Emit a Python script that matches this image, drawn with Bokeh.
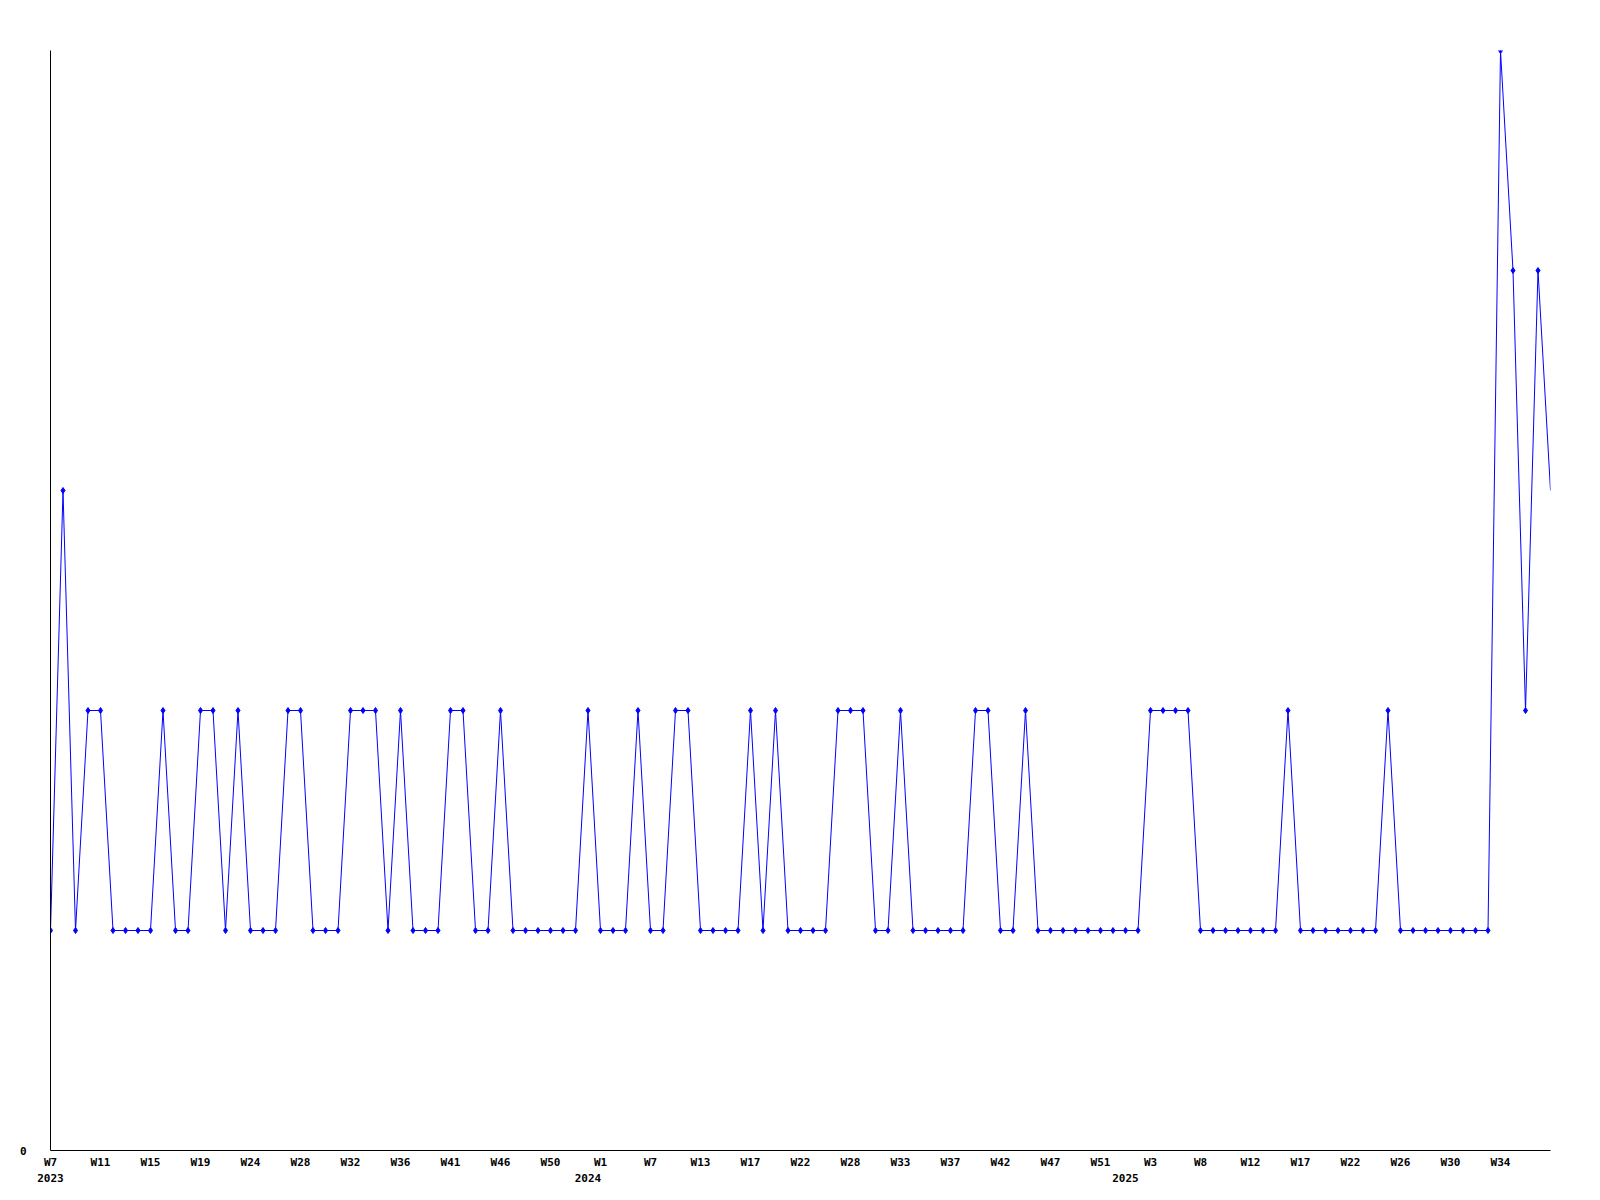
from bokeh.plotting import figure
from bokeh.models import Range1d, FixedTicker, LinearAxis
from bokeh.embed import file_html
from bokeh.resources import INLINE

# ---- data ----
values_2023 = [1, 3, 1, 2, 2, 1, 1, 1, 1, 2, 1, 1, 2, 2, 1, 2, 1, 1, 1, 2, 2, 1, 1, 1, 2,
               2, 2, 1, 2, 1, 1, 1, 2, 2, 1, 1, 2, 1, 1, 1, 1, 1, 1]
values_2024 = [2, 1, 1, 1, 2, 1, 1, 2, 2, 1, 1, 1, 1, 2, 1, 2, 1, 1, 1, 1, 2, 2, 2, 1, 1,
               2, 1, 1, 1, 1, 1, 2, 2, 1, 1, 2, 1, 1, 1, 1, 1, 1, 1]
values_2025 = [1, 1, 2, 2, 2, 2, 1, 1, 1, 1, 1, 1, 1, 2, 1, 1, 1, 1, 1, 1, 1, 2, 1, 1, 1,
               1, 1, 1, 1, 1, 5, 4, 2, 4, 3]
values = values_2023 + values_2024 + values_2025
x = list(range(len(values)))

week_tick_idx = list(range(0, 120, 4))
week_labels = ["W7", "W11", "W15", "W19", "W24", "W28", "W32", "W36", "W41", "W46",
               "W50", "W1", "W7", "W13", "W17", "W22", "W28", "W33", "W37", "W42",
               "W47", "W51", "W3", "W8", "W12", "W17", "W22", "W26", "W30", "W34"]
year_tick_idx = [0, len(values_2023), len(values_2023) + len(values_2024)]
year_labels = ["2023", "2024", "2025"]

FONT = "DejaVu Sans Mono"
BLUE = "#0000ff"

p = figure(width=1592, height=1192, output_backend="svg", toolbar_location=None,
           x_range=Range1d(0, len(values) - 1), y_range=Range1d(0, 5),
           min_border_left=50, min_border_right=42, min_border_top=50, min_border_bottom=42)
p.grid.visible = False
p.outline_line_color = None
p.background_fill_color = "white"
p.border_fill_color = "white"

p.line(x, values, line_color=BLUE, line_width=1)
p.scatter(x[:-1], values[:-1], marker="diamond", size=6, color=BLUE)

# y axis
ya = p.yaxis[0]
ya.ticker = FixedTicker(ticks=[0])
ya.major_label_overrides = {0: "0"}
ya.minor_tick_line_color = None
ya.major_tick_line_color = None
ya.major_tick_out = 0
ya.major_tick_in = 0
ya.major_label_standoff = 24
ya.axis_line_color = "black"
ya.major_label_text_font = FONT
ya.major_label_text_font_style = "bold"
ya.major_label_text_font_size = "11px"
ya.major_label_text_color = "black"

# x axis (weeks)
xa = p.xaxis[0]
xa.ticker = FixedTicker(ticks=week_tick_idx)
xa.major_label_overrides = {t: l for t, l in zip(week_tick_idx, week_labels)}
xa.minor_tick_line_color = None
xa.major_tick_line_color = None
xa.major_tick_out = 0
xa.major_tick_in = 0
xa.major_label_standoff = 5
xa.axis_line_color = "black"
xa.major_label_text_font = FONT
xa.major_label_text_font_style = "bold"
xa.major_label_text_font_size = "11px"
xa.major_label_text_color = "black"

# second x axis (years)
xa2 = LinearAxis(ticker=FixedTicker(ticks=year_tick_idx),
                 major_label_overrides={t: l for t, l in zip(year_tick_idx, year_labels)},
                 axis_line_color=None, major_tick_line_color=None, minor_tick_line_color=None,
                 major_tick_out=0, major_tick_in=0, major_label_standoff=2,
                 major_label_text_font=FONT, major_label_text_font_style="bold",
                 major_label_text_font_size="11px", major_label_text_color="black")
p.add_layout(xa2, "below")

open("out.html", "w").write(file_html(p, INLINE))
